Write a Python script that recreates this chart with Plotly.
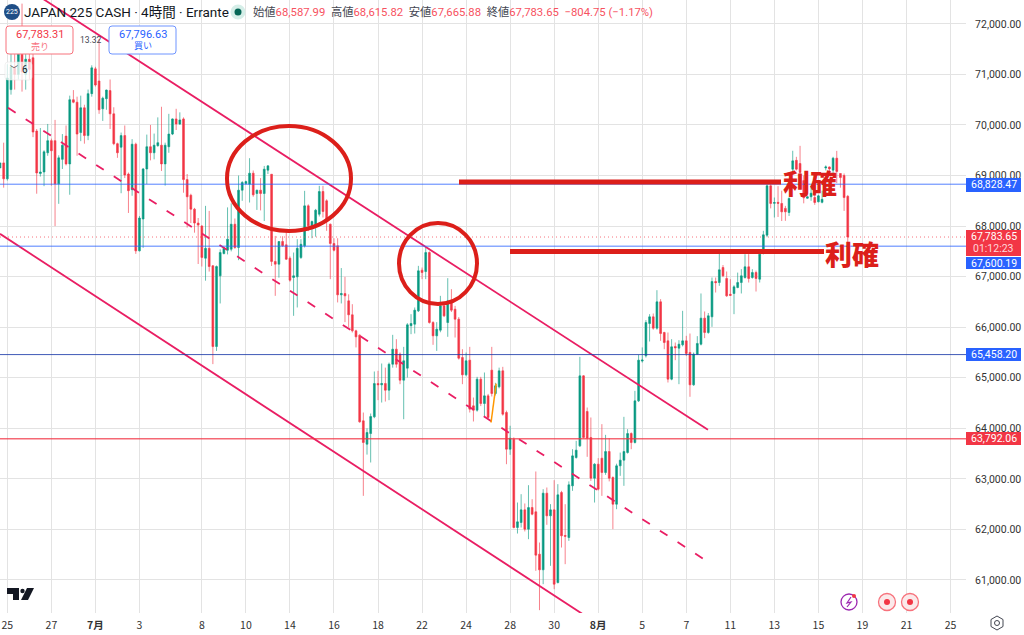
import plotly.graph_objects as go

# ---- OHLC values (4h bars, one entry per bar) ----
opens = [69150,69250,68935,70700,71150,71000,71400,71000,71300,71330,
 69880,69040,69070,69450,69690,69690,68835,69320,69780,69230,
 70500,70450,69850,70340,69790,70620,71110,70870,70320,70520,
 70680,70220,69630,69560,69790,69030,68720,69620,67510,68140,
 69130,69570,69450,69590,69600,69230,69570,69820,70120,70020,
 70120,68920,68610,68335,68060,68000,67365,67560,67214,65618,
 67016,67457,67523,67543,68037,67576,68710,68840,68829,69046,
 68644,68710,68644,69106,69026,67300,67247,67695,67629,67365,
 66983,66996,67378,67610,68400,68005,68005,68235,68684,68500,
 68037,67655,67610,66640,66665,66521,66245,65928,65842,64148,
 63686,63897,64227,64886,64860,64886,64754,65268,65565,65466,
 64952,65190,66030,66060,66323,67128,67101,67477,66093,65829,
 65941,66422,66093,66521,66356,66159,65400,65058,65348,64444,
 64359,64972,64491,64642,65150,64688,64820,65137,64313,63587,
 63785,62038,62137,62387,62005,62433,62348,61510,61201,62717,
 62269,62387,60950,62730,61880,61840,62862,63422,63653,65038,
 64332,63818,63014,63291,63409,63126,63541,63027,62499,63258,
 63370,63521,63897,63719,64543,65330,65434,66073,66205,65981,
 66502,65895,65730,64972,65620,65585,65651,65730,65500,64860,
 65467,65664,66179,65895,66205,66904,66884,67181,66963,66650,
 66667,66785,66884,66983,67194,66983,67082,66950,67458,67820,
 68796,68450,68470,68447,68350,68269,69126,69300,69238,68900,
 68550,68580,68565,68480,68470,69150,69170,69106,69343,69040,
 69000,68587.99]
highs = [69250,69650,71200,71450,71400,71700,72400,71450,71500,71650,
 69920,69940,69500,70020,69730,70100,69400,69820,69990,70580,
 70690,70560,70580,70400,70700,71180,71150,71700,70560,70700,
 70900,70350,69650,69850,69990,69060,69720,69650,68200,69150,
 69810,70000,69830,70150,70360,69650,70220,70130,70320,70250,
 70150,69030,68640,68360,68160,68020,68400,68300,67230,67220,
 67540,67580,68370,68450,68150,69000,68890,68900,69343,69100,
 68720,68950,69190,69200,69030,67805,67700,67800,67880,67400,
 67477,67741,67741,68697,68430,68110,68340,68796,68796,68530,
 68050,67760,67760,67170,66996,66650,66455,65950,65860,64312,
 64000,64293,65124,65137,65282,65200,65300,65849,65763,65500,
 65611,66080,66258,66390,67213,67180,67576,67500,66120,66100,
 66620,66455,66970,66752,66422,66200,65565,65500,65611,64609,
 65018,65018,65104,64680,65611,64900,65200,65216,64350,64050,
 63820,62532,62697,62513,62875,62598,63146,61741,62796,62829,
 62500,62974,62895,62763,62499,62950,63587,63752,65414,65050,
 64411,64214,63310,63410,64082,63871,63805,63050,63300,63520,
 64227,63983,63920,64741,65453,65600,66140,66258,66271,66732,
 66555,65910,65895,65763,65697,65743,66324,65829,65875,65500,
 65823,66667,66311,66280,66983,66983,67524,67230,67102,66950,
 66830,67080,67148,67445,67445,67148,67120,67500,67906,68830,
 68830,68565,68790,68700,68400,68570,69490,69370,69587,69000,
 68590,68800,68700,68620,68700,69200,69180,69370,69488,69040,
 69040,68615.82]
lows = [69150,68760,68900,70600,70700,70900,70660,70700,70900,69760,
 68640,68980,68790,69390,68800,68000,68440,69130,69200,68620,
 70430,69390,69680,69630,69700,70560,70760,70220,70080,70300,
 69920,69600,69350,68650,68950,68260,68600,67450,67500,67570,
 68830,69300,69320,69570,69090,68800,69450,69800,69900,70000,
 68660,67970,68060,67870,67250,67200,66920,67100,65270,65530,
 66470,67440,67440,67500,67550,67326,68500,68820,68466,68580,
 68320,68310,68100,69030,67210,66620,66980,67590,67330,66900,
 66225,66390,67350,67576,67900,67760,67790,68190,68170,67906,
 66950,67500,66490,66470,66100,66000,65895,65600,64110,62664,
 63480,63324,64200,64557,64510,64530,64557,65200,65200,64873,
 64180,65005,65862,65875,66300,66950,66950,66070,65651,65532,
 65900,66200,65810,66300,65796,65360,64873,65030,64313,64135,
 64330,64440,64214,64190,64630,64650,64790,64250,63290,63475,
 62020,61919,62038,61960,61807,62280,61181,60403,60917,62091,
 61280,60818,60930,61642,61313,61774,62763,63400,63630,63800,
 63436,62960,62532,62770,62664,63080,62950,62005,62400,63060,
 62862,63500,63587,63700,64520,65300,65400,65717,65950,65950,
 65730,65565,64906,64950,65348,64873,65620,65430,64623,64840,
 65450,65640,65783,65870,66007,66686,66818,66990,66600,66620,
 66258,66770,66667,66960,66884,66960,66706,66884,67440,67780,
 68350,68170,68180,68100,68104,68200,69050,69100,68900,68450,
 68540,68500,68420,68470,68450,69100,69000,69050,68850,68760,
 68300,67665.88]
closes = [69250,68935,70930,71150,71000,71400,71050,71300,71100,69860,
 69050,69070,69470,69690,69490,68835,69350,69600,69230,70500,
 70450,69820,70340,69790,70620,71130,70790,70300,70530,70690,
 70220,69630,69450,69790,69010,68700,69620,67510,68160,69130,
 69570,69450,69600,69650,69230,69600,69820,70120,70020,70100,
 68920,68580,68335,68060,68020,67380,67560,67200,65618,67200,
 67477,67560,67741,68037,67576,68710,68862,68880,69046,68618,
 68710,68644,69125,69191,67300,67247,67695,67610,67345,66930,
 67016,67560,67640,68400,68005,68090,68314,68684,68288,68137,
 67655,67523,66640,66665,66620,66245,65928,65809,64128,63719,
 63917,64233,64886,64860,64886,64754,65268,65565,65268,64952,
 65335,66047,66073,66337,67115,67082,67477,66093,65829,65961,
 66422,66224,66521,66337,66159,65387,65058,65335,64379,64359,
 64972,64491,64642,64214,64688,64840,65137,64280,63587,63805,
 62038,62150,62387,62005,62433,62302,61491,61201,62717,62269,
 62387,60917,62684,61873,61865,62882,63455,63567,65038,63818,
 63805,63014,63291,62796,63126,63541,63014,62499,63258,63370,
 63541,63897,63719,64543,65348,65350,66093,66205,65981,66502,
 65875,65697,64972,65612,65590,65664,65730,65480,64860,65467,
 65678,66179,65895,66225,66904,66880,67135,67016,66620,66630,
 66798,66884,67016,67194,66963,67082,66963,67445,67827,68796,
 68447,68465,68450,68282,68282,68546,69290,69126,69060,68560,
 68580,68650,68466,68598,68530,69170,69130,69343,69080,68960,
 68565,67783.65]
bar_index = list(range(len(opens)))

tick_bars = [2,14,26,38,55,67,79,91,103,115,127,139,151,163,175,187,199,211,223,235,247,259]
tick_labels = ["25","27","<b>7月</b>","3","8","10","14","16","18","22","24","28","30","<b>8月</b>",
               "5","7","11","13","15","19","21","25"]

level_prices = [68828.47, 67600.19, 65458.20, 63792.06]
last_price = 67783.65

channel_upper_bar = [11.7, 192.9]; channel_upper_price = [72495, 63970]
channel_mid_bar = [2.2, 192.9];    channel_mid_price = [70340, 61360]
channel_low_bar = [0, 165];        channel_low_price = [67846, 60030]
orange_bar = [133.8, 135.2];       orange_price = [64115, 64885]

W, H, R, B = 1024, 635, 58, 22
PW, PH = W - R, H - B
PX = 3.67
P0, PPP = 72472, 19.78
def px(x): return x / PW
def py(y): return 1 - y / PH
def rbar(x): return x / PX
def rprice(y): return P0 - PPP * y

TEAL, RED = "#089981", "#F23645"
PINK = "#E91E63"
BLUE = "#2962FF"
MARK = "#DC1F1A"
FONT = "Noto Sans CJK JP"
UI = "Roboto, Noto Sans CJK JP"

fig = go.Figure()
fig.add_trace(go.Candlestick(
    x=bar_index, open=opens, high=highs, low=lows, close=closes,
    increasing=dict(line=dict(color="rgba(8,153,129,0.62)", width=1), fillcolor=TEAL),
    decreasing=dict(line=dict(color="rgba(242,54,69,0.62)", width=1), fillcolor=RED),
    whiskerwidth=0, showlegend=False, hoverinfo="skip"))
fig.add_trace(go.Scatter(x=channel_upper_bar, y=channel_upper_price, mode="lines",
    line=dict(color=PINK, width=1.8), showlegend=False, hoverinfo="skip"))
fig.add_trace(go.Scatter(x=channel_mid_bar, y=channel_mid_price, mode="lines",
    line=dict(color=PINK, width=1.8, dash="9px,12px"), showlegend=False, hoverinfo="skip"))
fig.add_trace(go.Scatter(x=channel_low_bar, y=channel_low_price, mode="lines",
    line=dict(color=PINK, width=1.8), showlegend=False, hoverinfo="skip"))
fig.add_trace(go.Scatter(x=orange_bar, y=orange_price, mode="lines",
    line=dict(color="#FF9800", width=1.5), showlegend=False, hoverinfo="skip"))

shapes, ann = [], []
def hline(p, color, width, dash="solid"):
    shapes.append(dict(type="line", xref="paper", yref="y", x0=0, x1=1, y0=p, y1=p,
                       line=dict(color=color, width=width, dash=dash)))
hline(last_price, "rgba(242,54,69,0.7)", 1, "1px,3px")
hline(level_prices[0], "rgba(41,98,255,0.8)", 1)
hline(level_prices[1], "rgba(41,98,255,0.55)", 1.5)
hline(level_prices[2], "rgba(30,60,170,0.85)", 1)
hline(level_prices[3], "rgba(242,54,69,0.75)", 1.5)

# hand-drawn marks
for x0, x1, y in [(459, 781, 182), (510, 824, 251.5)]:
    shapes.append(dict(type="line", xref="x", yref="y", x0=rbar(x0), x1=rbar(x1),
                       y0=rprice(y), y1=rprice(y), line=dict(color=MARK, width=5)))
for l, t, r, b in [(227, 126, 351, 231), (399, 223, 477, 304)]:
    shapes.append(dict(type="circle", xref="x", yref="y", x0=rbar(l), x1=rbar(r),
                       y0=rprice(t), y1=rprice(b), line=dict(color=MARK, width=4)))

def text(x, y, s, size=11, color="#131722", anchor="left", yanchor="middle", family=UI, weight=None):
    f = dict(size=size, color=color, family=family)
    if weight:
        f["weight"] = weight
    ann.append(dict(xref="paper", yref="paper", x=px(x), y=py(y), text=s, showarrow=False,
                    xanchor=anchor, yanchor=yanchor, align="center" if anchor == "center" else "left",
                    font=f, borderpad=0, borderwidth=0))
def rrect(x0, y0, x1, y1, r, line, fill="white", width=1):
    X0, X1 = px(x0), px(x1); Y0, Y1 = py(y0), py(y1)
    rx, ry = r / PW, r / PH
    d = (f"M {X0+rx} {Y0} L {X1-rx} {Y0} Q {X1} {Y0} {X1} {Y0-ry} L {X1} {Y1+ry} Q {X1} {Y1} {X1-rx} {Y1} "
         f"L {X0+rx} {Y1} Q {X0} {Y1} {X0} {Y1+ry} L {X0} {Y0-ry} Q {X0} {Y0} {X0+rx} {Y0} Z")
    shapes.append(dict(type="path", xref="paper", yref="paper", path=d, fillcolor=fill,
                       line=dict(color=line, width=width)))
def circ(cx, cy, r, line=None, fill=None, width=1):
    shapes.append(dict(type="circle", xref="paper", yref="paper",
                       x0=px(cx - r), x1=px(cx + r), y0=py(cy + r), y1=py(cy - r),
                       fillcolor=fill or "rgba(0,0,0,0)",
                       line=dict(color=line or "rgba(0,0,0,0)", width=width)))

text(810, 183, "利確", size=27, color=MARK, anchor="center", family=FONT, weight=900)
text(852, 253, "利確", size=27, color=MARK, anchor="center", family=FONT, weight=900)

# header
circ(12, 12, 8, fill="#1F4E86")
text(12, 12, "225", size=7, color="white", anchor="center", family="Roboto")
text(24, 12, "JAPAN 225 CASH · 4時間 · Errante", size=13.5, color="#131722")
circ(238, 12, 7.5, fill="#D5EEE8")
circ(238, 12, 3.5, fill="#056656")
G, V = "#434651", "#F7525F"
def hv(a, b): return f'<span style="color:{G}">{a}</span><span style="color:{V}">{b}</span>'
hdr = "  ".join([hv("始値", "68,587.99"), hv("高値", "68,615.82"), hv("安値", "67,665.88"), hv("終値", "67,783.65")])
text(253, 12, hdr + f'<span style="color:{V}">  −804.75 (−1.17%)</span>', size=11.3, color=G)

# sell / buy boxes
rrect(6, 26, 73, 54, 3, "#F7727C")
text(39.5, 34, "67,783.31", size=11, color="#F23645", anchor="center")
text(39.5, 46, "売り", size=9, color="#F7727C", anchor="center")
text(91, 40, "13.32", size=8.5, color="#434651", anchor="center")
rrect(109, 26, 176, 54, 3, "#6E94FF")
text(142.5, 34, "67,796.63", size=11, color="#2962FF", anchor="center")
text(142.5, 46, "買い", size=9, color="#2962FF", anchor="center")
rrect(5, 62, 32, 80, 3, "rgba(230,230,230,0.5)", "rgba(255,255,255,0.75)")
text(14, 70, "﹀", size=8, color="#131722", anchor="center")
text(25, 70, "6", size=10, color="#131722", anchor="center")

# price tags on the axis
def tag(y0, y1, color, lines):
    shapes.append(dict(type="rect", xref="paper", yref="paper", x0=px(966), x1=px(1021),
                       y0=py(y1), y1=py(y0), fillcolor=color, line=dict(width=0)))
    for yy, s, c in lines:
        text(993.5, yy, s, size=10.5, color=c, anchor="center", family="Roboto")
tag(178, 192, BLUE, [(185, "68,828.47", "white")])
tag(230, 256, RED, [(236.5, "67,783.65", "white"), (248.5, "01:12:23", "#FFD6DA")])
tag(257, 269, BLUE, [(263, "67,600.19", "white")])
tag(348, 361, BLUE, [(354.5, "65,458.20", "white")])
tag(432, 445, RED, [(438.5, "63,792.06", "white")])

# bottom-left logo
shapes.append(dict(type="path", xref="paper", yref="paper", fillcolor="#131722", line=dict(width=0),
    path=f"M {px(7)} {py(588)} L {px(19)} {py(588)} L {px(19)} {py(600)} L {px(13)} {py(600)} L {px(13)} {py(594)} L {px(7)} {py(594)} Z"))
circ(22.5, 591, 2.2, fill="#131722")
shapes.append(dict(type="path", xref="paper", yref="paper", fillcolor="#131722", line=dict(width=0),
    path=f"M {px(27)} {py(588)} L {px(34)} {py(588)} L {px(28)} {py(600)} L {px(21)} {py(600)} Z"))

# bottom-right status icons
circ(849, 602, 8, line="#9C27B0", width=1.3)
circ(854, 596, 2, fill="#F23645")
shapes.append(dict(type="path", xref="paper", yref="paper", line=dict(color="#9C27B0", width=1.2),
    path=f"M {px(851)} {py(597)} L {px(847)} {py(603)} L {px(851)} {py(602)} L {px(847)} {py(607)}"))
for cx in (887, 910):
    circ(cx, 602, 8.5, line="#F7727C", width=1.3, fill="#FBE9EA")
    circ(cx, 602, 3, fill="#F23645")
# settings hexagon (outside the plotting area on the right)
hx = [(997, 616), (1003, 619.5), (1003, 626.5), (997, 630), (991, 626.5), (991, 619.5)]
shapes.append(dict(type="path", xref="paper", yref="paper", line=dict(color="#434651", width=1),
    path="M " + " L ".join(f"{px(a)} {py(b)}" for a, b in hx) + " Z"))
circ(997, 623, 2.5, line="#434651", width=1)

GRID = "#E3E3E3"
fig.update_layout(
    width=W, height=H, autosize=False, margin=dict(l=0, r=R, t=0, b=B),
    paper_bgcolor="white", plot_bgcolor="white", shapes=shapes, annotations=ann,
    font=dict(family=FONT, color="#131722"), showlegend=False, dragmode=False,
    xaxis=dict(range=[0, PW / PX], tickmode="array", tickvals=tick_bars, ticktext=tick_labels,
               showgrid=True, gridcolor=GRID, gridwidth=1.3, zeroline=False, showline=False,
               ticks="outside", ticklen=2, tickcolor="white",
               tickfont=dict(size=10.5, color="#333", family=FONT), rangeslider=dict(visible=False)),
    yaxis=dict(side="right", range=[rprice(PH), P0], tickmode="linear", tick0=61000, dtick=1000,
               tickformat=",.2f", showgrid=True, gridcolor=GRID, gridwidth=1.3, zeroline=False,
               showline=False, ticks="outside", ticklen=6, tickcolor="white",
               tickfont=dict(size=10.5, color="#333", family="Roboto")),
)
fig.write_html("out.html", config=dict(displayModeBar=False),
               post_script="document.body.style.margin='0';document.documentElement.style.overflow='hidden';")
